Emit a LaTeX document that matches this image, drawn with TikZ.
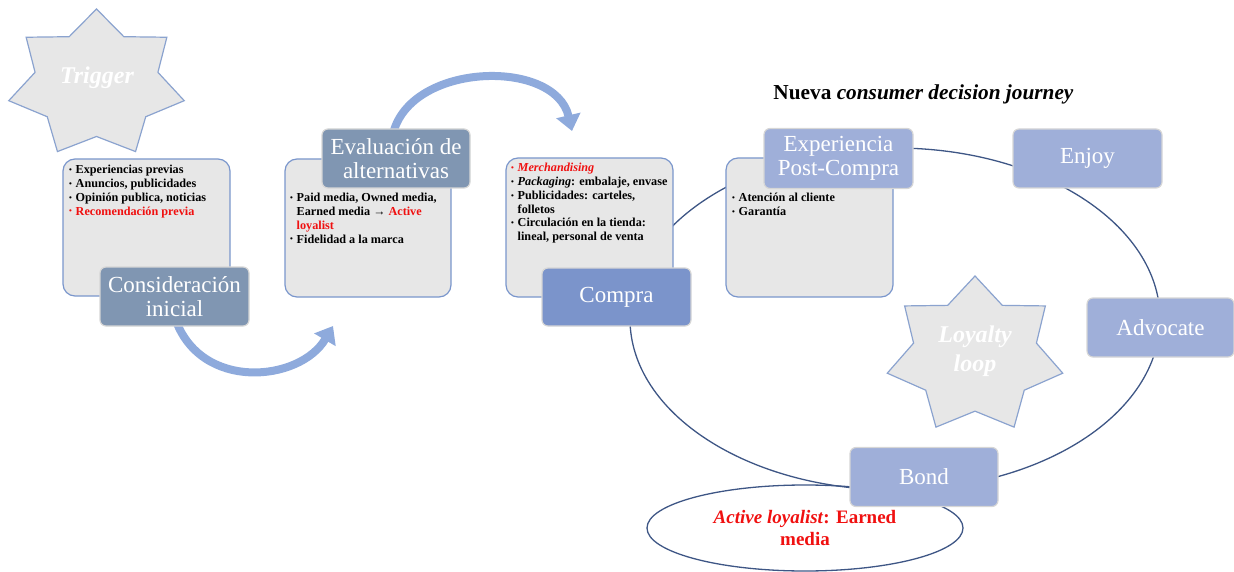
\documentclass[tikz,border=0pt]{standalone}
\usepackage{fontspec}
\setmainfont{Liberation Serif}
\usetikzlibrary{arrows.meta,shapes.geometric}
\definecolor{cgray}{HTML}{E7E7E7}
\definecolor{cborder}{HTML}{7A96CC}
\definecolor{starborder}{HTML}{8BA3CF}
\definecolor{slate}{HTML}{8096B2}
\definecolor{compra}{HTML}{7B94CB}
\definecolor{light}{HTML}{9FAFD9}
\definecolor{arrowc}{HTML}{8EAADC}
\definecolor{loopline}{HTML}{3E5685}
\definecolor{labborder}{HTML}{D6D6D6}
\definecolor{redtxt}{HTML}{F01010}
\newcommand\bul{\makebox[6.5pt][l]{\raisebox{1.2pt}{\fontsize{8}{8}\selectfont\textbullet}}}
\newcommand\ind{\hspace*{6.5pt}}
\begin{document}
\begin{tikzpicture}[x=1pt,y=-1pt,
  contentbox/.style={draw=cborder,line width=1.2pt,fill=cgray,rounded corners=12pt,inner sep=0pt},
  labelbox/.style={draw=labborder,line width=1.2pt,rounded corners=6pt,inner sep=0pt,text=white,align=center,
    font=\fontsize{23}{24}\selectfont,minimum width=149pt,minimum height=59pt},
  bullets/.style={anchor=north west,align=left,inner sep=0pt,font=\bfseries\fontsize{12.2}{13.8}\selectfont},
  stardraw/.style={draw=starborder,line width=1.2pt,fill=cgray,line join=miter},
  startext/.style={text=white,align=center,font=\bfseries\itshape\fontsize{24}{29}\selectfont,inner sep=0pt},
  bigarrow/.style={draw=arrowc,line width=8pt,-{Triangle[width=24pt,length=16pt]}},
  loopstyle/.style={draw=loopline,line width=1.3pt,ellipse,inner sep=0pt}]
\useasboundingbox (0,0) rectangle (1234,572);

% loyalty loop circle
\node[loopstyle,minimum width=530pt,minimum height=342pt] (loop) at (895,319) {};

% curved arrows
\coordinate (a1s) at (175,318);
\coordinate (a1e) at (333,326);
\coordinate (a2s) at (393,134);
\coordinate (a2e) at (572,131);
\draw[bigarrow] (a1s) .. controls (200,392) and (300,382) .. (a1e);
\draw[bigarrow] (a2s) .. controls (410,62) and (555,58) .. (a2e);

% content boxes
\node[contentbox,minimum width=167pt,minimum height=137pt] (c1) at (146.5,227.5) {};
\node[contentbox,minimum width=166pt,minimum height=138pt] (c2) at (368,228) {};
\node[contentbox,minimum width=167pt,minimum height=139pt] (c3) at (589.5,227.5) {};
\node[contentbox,minimum width=167pt,minimum height=139pt] (c4) at (809.5,227.5) {};

\node[bullets] (t1) at (69,165) {\bul Experiencias previas\\
\bul Anuncios, publicidades\\
\bul Opinión publica, noticias\\
\textcolor{redtxt}{\bul Recomendación previa}};
\node[bullets] (t2) at (290,193) {\bul Paid media, Owned media,\\
\ind Earned media → \textcolor{redtxt}{Active}\\
\ind\textcolor{redtxt}{loyalist}\\
\bul Fidelidad a la marca};
\node[bullets] (t3) at (511,163) {\textcolor{redtxt}{\bul\textit{Merchandising}}\\
\bul\textit{Packaging}: embalaje, envase\\
\bul Publicidades: carteles,\\
\ind folletos\\
\bul Circulación en la tienda:\\
\ind lineal, personal de venta};
\node[bullets] (t4) at (732,193) {\bul Atención al cliente\\
\bul Garantía};

% label boxes
\node[labelbox,fill=slate] (l1) at (174.5,296.5) {Consideración\\inicial};
\node[labelbox,fill=slate,minimum width=148pt] (l2) at (396,158.5) {Evaluación de\\alternativas};
\node[labelbox,fill=compra,minimum height=58pt] (l3) at (616.5,297) {Compra};
\node[labelbox,fill=light,minimum height=60pt] (l4) at (838.5,158.5) {Experiencia\\Post-Compra};
\node[labelbox,fill=light] (enjoy) at (1087.5,158.5) {Enjoy};
\node[labelbox,fill=light,minimum width=147pt] (adv) at (1160.5,327.5) {Advocate};

% active loyalist ellipse
\node[loopstyle,minimum width=316pt,minimum height=86pt,text=redtxt,align=center,
  font=\bfseries\fontsize{19}{22}\selectfont] (al) at (805,528) {\textit{Active loyalist}: Earned\\media};
\node[labelbox,fill=light,minimum width=148pt] (bond) at (924,477) {Bond};

% title
\node[font=\bfseries\fontsize{21.3}{24}\selectfont,inner sep=0pt] (title) at (923.5,94) {Nueva \textit{consumer decision journey}};

% stars
\begin{scope}[shift={(96.5,84)}]
\draw[stardraw] (90:90pt and 75pt)
  \foreach \i [evaluate=\i as \rx using {90*(1-0.3*mod(\i,2))},
               evaluate=\i as \ry using {75*(1-0.3*mod(\i,2))},
               evaluate=\i as \ang using {90+\i*180/7}] in {1,...,13} { -- (\ang:\rx pt and \ry pt) } -- cycle;
\end{scope}
\node[startext] (trig) at (97,78) {Trigger};
\begin{scope}[shift={(975,355.5)}]
\draw[stardraw] (90:90pt and 79.5pt)
  \foreach \i [evaluate=\i as \rx using {90*(1-0.3*mod(\i,2))},
               evaluate=\i as \ry using {79.5*(1-0.3*mod(\i,2))},
               evaluate=\i as \ang using {90+\i*180/7}] in {1,...,13} { -- (\ang:\rx pt and \ry pt) } -- cycle;
\end{scope}
\node[startext] (loy) at (975,351) {Loyalty\\loop};
\end{tikzpicture}
\end{document}
